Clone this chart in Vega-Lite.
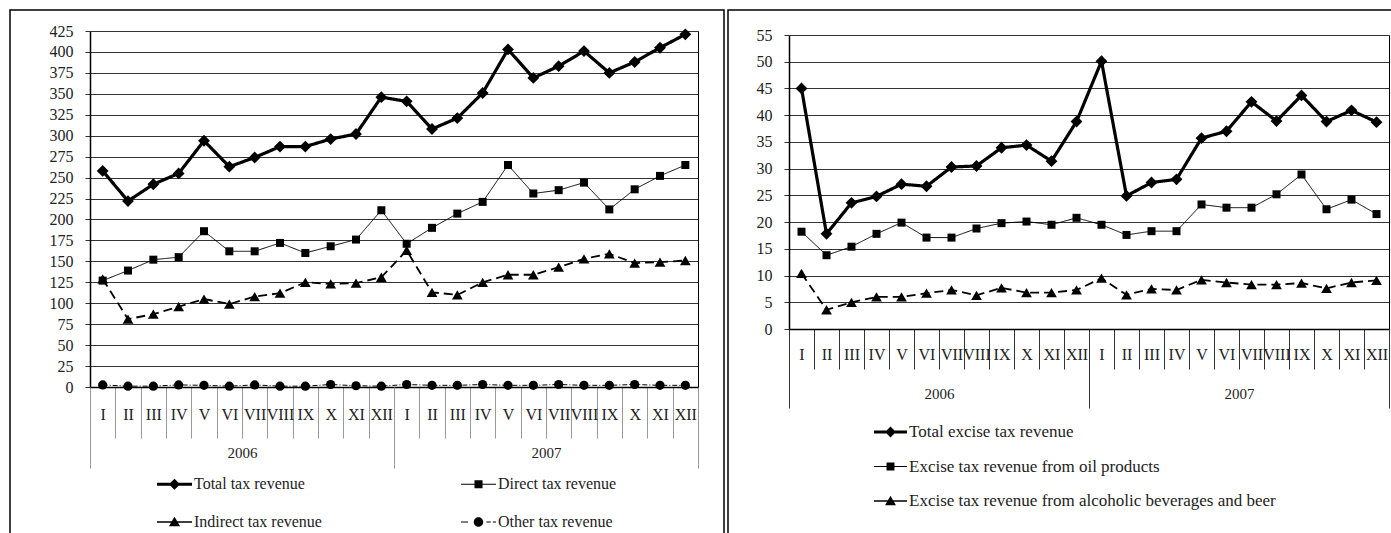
{
  "$schema": "https://vega.github.io/schema/vega-lite/v6.json",
  "padding": {"left": 9, "top": 9, "right": 0, "bottom": 0},
  "background": "white",
  "spacing": 2,
  "config": {
    "view": {"stroke": "black", "strokeWidth": 1.5},
    "font": "Liberation Serif",
    "axis": {"labelFont": "Liberation Serif", "labelColor": "#222", "labelFontSize": 16, "titleFont": "Liberation Serif"},
    "legend": {"labelFont": "Liberation Serif", "labelColor": "#222", "labelFontSize": 16}
  },
  "datasets": {
    "left": [
      {"m":"2006-I","yr":"2006","s":"Total tax revenue","v":258},
      {"m":"2006-II","yr":"2006","s":"Total tax revenue","v":222},
      {"m":"2006-III","yr":"2006","s":"Total tax revenue","v":242},
      {"m":"2006-IV","yr":"2006","s":"Total tax revenue","v":255},
      {"m":"2006-V","yr":"2006","s":"Total tax revenue","v":294},
      {"m":"2006-VI","yr":"2006","s":"Total tax revenue","v":263},
      {"m":"2006-VII","yr":"2006","s":"Total tax revenue","v":274},
      {"m":"2006-VIII","yr":"2006","s":"Total tax revenue","v":287},
      {"m":"2006-IX","yr":"2006","s":"Total tax revenue","v":287},
      {"m":"2006-X","yr":"2006","s":"Total tax revenue","v":296},
      {"m":"2006-XI","yr":"2006","s":"Total tax revenue","v":302},
      {"m":"2006-XII","yr":"2006","s":"Total tax revenue","v":346},
      {"m":"2007-I","yr":"2007","s":"Total tax revenue","v":341},
      {"m":"2007-II","yr":"2007","s":"Total tax revenue","v":308},
      {"m":"2007-III","yr":"2007","s":"Total tax revenue","v":321},
      {"m":"2007-IV","yr":"2007","s":"Total tax revenue","v":351},
      {"m":"2007-V","yr":"2007","s":"Total tax revenue","v":403},
      {"m":"2007-VI","yr":"2007","s":"Total tax revenue","v":369},
      {"m":"2007-VII","yr":"2007","s":"Total tax revenue","v":383},
      {"m":"2007-VIII","yr":"2007","s":"Total tax revenue","v":401},
      {"m":"2007-IX","yr":"2007","s":"Total tax revenue","v":375},
      {"m":"2007-X","yr":"2007","s":"Total tax revenue","v":388},
      {"m":"2007-XI","yr":"2007","s":"Total tax revenue","v":405},
      {"m":"2007-XII","yr":"2007","s":"Total tax revenue","v":421},
      {"m":"2006-I","yr":"2006","s":"Direct tax revenue","v":127},
      {"m":"2006-II","yr":"2006","s":"Direct tax revenue","v":139},
      {"m":"2006-III","yr":"2006","s":"Direct tax revenue","v":152},
      {"m":"2006-IV","yr":"2006","s":"Direct tax revenue","v":155},
      {"m":"2006-V","yr":"2006","s":"Direct tax revenue","v":186},
      {"m":"2006-VI","yr":"2006","s":"Direct tax revenue","v":162},
      {"m":"2006-VII","yr":"2006","s":"Direct tax revenue","v":162},
      {"m":"2006-VIII","yr":"2006","s":"Direct tax revenue","v":172},
      {"m":"2006-IX","yr":"2006","s":"Direct tax revenue","v":160},
      {"m":"2006-X","yr":"2006","s":"Direct tax revenue","v":168},
      {"m":"2006-XI","yr":"2006","s":"Direct tax revenue","v":176},
      {"m":"2006-XII","yr":"2006","s":"Direct tax revenue","v":211},
      {"m":"2007-I","yr":"2007","s":"Direct tax revenue","v":171},
      {"m":"2007-II","yr":"2007","s":"Direct tax revenue","v":190},
      {"m":"2007-III","yr":"2007","s":"Direct tax revenue","v":207},
      {"m":"2007-IV","yr":"2007","s":"Direct tax revenue","v":221},
      {"m":"2007-V","yr":"2007","s":"Direct tax revenue","v":265},
      {"m":"2007-VI","yr":"2007","s":"Direct tax revenue","v":231},
      {"m":"2007-VII","yr":"2007","s":"Direct tax revenue","v":235},
      {"m":"2007-VIII","yr":"2007","s":"Direct tax revenue","v":244},
      {"m":"2007-IX","yr":"2007","s":"Direct tax revenue","v":212},
      {"m":"2007-X","yr":"2007","s":"Direct tax revenue","v":236},
      {"m":"2007-XI","yr":"2007","s":"Direct tax revenue","v":252},
      {"m":"2007-XII","yr":"2007","s":"Direct tax revenue","v":265},
      {"m":"2006-I","yr":"2006","s":"Indirect tax revenue","v":129},
      {"m":"2006-II","yr":"2006","s":"Indirect tax revenue","v":81},
      {"m":"2006-III","yr":"2006","s":"Indirect tax revenue","v":87},
      {"m":"2006-IV","yr":"2006","s":"Indirect tax revenue","v":96},
      {"m":"2006-V","yr":"2006","s":"Indirect tax revenue","v":105},
      {"m":"2006-VI","yr":"2006","s":"Indirect tax revenue","v":99},
      {"m":"2006-VII","yr":"2006","s":"Indirect tax revenue","v":108},
      {"m":"2006-VIII","yr":"2006","s":"Indirect tax revenue","v":112},
      {"m":"2006-IX","yr":"2006","s":"Indirect tax revenue","v":125},
      {"m":"2006-X","yr":"2006","s":"Indirect tax revenue","v":123},
      {"m":"2006-XI","yr":"2006","s":"Indirect tax revenue","v":124},
      {"m":"2006-XII","yr":"2006","s":"Indirect tax revenue","v":131},
      {"m":"2007-I","yr":"2007","s":"Indirect tax revenue","v":163},
      {"m":"2007-II","yr":"2007","s":"Indirect tax revenue","v":113},
      {"m":"2007-III","yr":"2007","s":"Indirect tax revenue","v":110},
      {"m":"2007-IV","yr":"2007","s":"Indirect tax revenue","v":125},
      {"m":"2007-V","yr":"2007","s":"Indirect tax revenue","v":134},
      {"m":"2007-VI","yr":"2007","s":"Indirect tax revenue","v":134},
      {"m":"2007-VII","yr":"2007","s":"Indirect tax revenue","v":143},
      {"m":"2007-VIII","yr":"2007","s":"Indirect tax revenue","v":153},
      {"m":"2007-IX","yr":"2007","s":"Indirect tax revenue","v":159},
      {"m":"2007-X","yr":"2007","s":"Indirect tax revenue","v":148},
      {"m":"2007-XI","yr":"2007","s":"Indirect tax revenue","v":149},
      {"m":"2007-XII","yr":"2007","s":"Indirect tax revenue","v":151},
      {"m":"2006-I","yr":"2006","s":"Other tax revenue","v":2.5},
      {"m":"2006-II","yr":"2006","s":"Other tax revenue","v":1},
      {"m":"2006-III","yr":"2006","s":"Other tax revenue","v":1},
      {"m":"2006-IV","yr":"2006","s":"Other tax revenue","v":2.5},
      {"m":"2006-V","yr":"2006","s":"Other tax revenue","v":2},
      {"m":"2006-VI","yr":"2006","s":"Other tax revenue","v":1},
      {"m":"2006-VII","yr":"2006","s":"Other tax revenue","v":2.5},
      {"m":"2006-VIII","yr":"2006","s":"Other tax revenue","v":1},
      {"m":"2006-IX","yr":"2006","s":"Other tax revenue","v":1},
      {"m":"2006-X","yr":"2006","s":"Other tax revenue","v":3},
      {"m":"2006-XI","yr":"2006","s":"Other tax revenue","v":1.5},
      {"m":"2006-XII","yr":"2006","s":"Other tax revenue","v":1},
      {"m":"2007-I","yr":"2007","s":"Other tax revenue","v":3},
      {"m":"2007-II","yr":"2007","s":"Other tax revenue","v":2},
      {"m":"2007-III","yr":"2007","s":"Other tax revenue","v":2},
      {"m":"2007-IV","yr":"2007","s":"Other tax revenue","v":3},
      {"m":"2007-V","yr":"2007","s":"Other tax revenue","v":2},
      {"m":"2007-VI","yr":"2007","s":"Other tax revenue","v":2},
      {"m":"2007-VII","yr":"2007","s":"Other tax revenue","v":3},
      {"m":"2007-VIII","yr":"2007","s":"Other tax revenue","v":2},
      {"m":"2007-IX","yr":"2007","s":"Other tax revenue","v":2},
      {"m":"2007-X","yr":"2007","s":"Other tax revenue","v":3},
      {"m":"2007-XI","yr":"2007","s":"Other tax revenue","v":2},
      {"m":"2007-XII","yr":"2007","s":"Other tax revenue","v":2}
    ],
    "right": [
      {"m":"2006-I","yr":"2006","s":"Total excise tax revenue","v":45.0},
      {"m":"2006-II","yr":"2006","s":"Total excise tax revenue","v":17.8},
      {"m":"2006-III","yr":"2006","s":"Total excise tax revenue","v":23.6},
      {"m":"2006-IV","yr":"2006","s":"Total excise tax revenue","v":24.8},
      {"m":"2006-V","yr":"2006","s":"Total excise tax revenue","v":27.1},
      {"m":"2006-VI","yr":"2006","s":"Total excise tax revenue","v":26.7},
      {"m":"2006-VII","yr":"2006","s":"Total excise tax revenue","v":30.3},
      {"m":"2006-VIII","yr":"2006","s":"Total excise tax revenue","v":30.5},
      {"m":"2006-IX","yr":"2006","s":"Total excise tax revenue","v":33.9},
      {"m":"2006-X","yr":"2006","s":"Total excise tax revenue","v":34.4},
      {"m":"2006-XI","yr":"2006","s":"Total excise tax revenue","v":31.4},
      {"m":"2006-XII","yr":"2006","s":"Total excise tax revenue","v":38.8},
      {"m":"2007-I","yr":"2007","s":"Total excise tax revenue","v":50.1},
      {"m":"2007-II","yr":"2007","s":"Total excise tax revenue","v":24.9},
      {"m":"2007-III","yr":"2007","s":"Total excise tax revenue","v":27.4},
      {"m":"2007-IV","yr":"2007","s":"Total excise tax revenue","v":28.0},
      {"m":"2007-V","yr":"2007","s":"Total excise tax revenue","v":35.7},
      {"m":"2007-VI","yr":"2007","s":"Total excise tax revenue","v":37.0},
      {"m":"2007-VII","yr":"2007","s":"Total excise tax revenue","v":42.5},
      {"m":"2007-VIII","yr":"2007","s":"Total excise tax revenue","v":38.9},
      {"m":"2007-IX","yr":"2007","s":"Total excise tax revenue","v":43.7},
      {"m":"2007-X","yr":"2007","s":"Total excise tax revenue","v":38.8},
      {"m":"2007-XI","yr":"2007","s":"Total excise tax revenue","v":40.9},
      {"m":"2007-XII","yr":"2007","s":"Total excise tax revenue","v":38.7},
      {"m":"2006-I","yr":"2006","s":"Excise tax revenue from oil products","v":18.2},
      {"m":"2006-II","yr":"2006","s":"Excise tax revenue from oil products","v":13.8},
      {"m":"2006-III","yr":"2006","s":"Excise tax revenue from oil products","v":15.4},
      {"m":"2006-IV","yr":"2006","s":"Excise tax revenue from oil products","v":17.8},
      {"m":"2006-V","yr":"2006","s":"Excise tax revenue from oil products","v":19.9},
      {"m":"2006-VI","yr":"2006","s":"Excise tax revenue from oil products","v":17.1},
      {"m":"2006-VII","yr":"2006","s":"Excise tax revenue from oil products","v":17.1},
      {"m":"2006-VIII","yr":"2006","s":"Excise tax revenue from oil products","v":18.8},
      {"m":"2006-IX","yr":"2006","s":"Excise tax revenue from oil products","v":19.8},
      {"m":"2006-X","yr":"2006","s":"Excise tax revenue from oil products","v":20.1},
      {"m":"2006-XI","yr":"2006","s":"Excise tax revenue from oil products","v":19.5},
      {"m":"2006-XII","yr":"2006","s":"Excise tax revenue from oil products","v":20.8},
      {"m":"2007-I","yr":"2007","s":"Excise tax revenue from oil products","v":19.5},
      {"m":"2007-II","yr":"2007","s":"Excise tax revenue from oil products","v":17.6},
      {"m":"2007-III","yr":"2007","s":"Excise tax revenue from oil products","v":18.3},
      {"m":"2007-IV","yr":"2007","s":"Excise tax revenue from oil products","v":18.3},
      {"m":"2007-V","yr":"2007","s":"Excise tax revenue from oil products","v":23.3},
      {"m":"2007-VI","yr":"2007","s":"Excise tax revenue from oil products","v":22.7},
      {"m":"2007-VII","yr":"2007","s":"Excise tax revenue from oil products","v":22.7},
      {"m":"2007-VIII","yr":"2007","s":"Excise tax revenue from oil products","v":25.2},
      {"m":"2007-IX","yr":"2007","s":"Excise tax revenue from oil products","v":28.9},
      {"m":"2007-X","yr":"2007","s":"Excise tax revenue from oil products","v":22.4},
      {"m":"2007-XI","yr":"2007","s":"Excise tax revenue from oil products","v":24.2},
      {"m":"2007-XII","yr":"2007","s":"Excise tax revenue from oil products","v":21.5},
      {"m":"2006-I","yr":"2006","s":"Excise tax revenue from alcoholic beverages and beer","v":10.4},
      {"m":"2006-II","yr":"2006","s":"Excise tax revenue from alcoholic beverages and beer","v":3.6},
      {"m":"2006-III","yr":"2006","s":"Excise tax revenue from alcoholic beverages and beer","v":5.0},
      {"m":"2006-IV","yr":"2006","s":"Excise tax revenue from alcoholic beverages and beer","v":6.0},
      {"m":"2006-V","yr":"2006","s":"Excise tax revenue from alcoholic beverages and beer","v":6.0},
      {"m":"2006-VI","yr":"2006","s":"Excise tax revenue from alcoholic beverages and beer","v":6.7},
      {"m":"2006-VII","yr":"2006","s":"Excise tax revenue from alcoholic beverages and beer","v":7.3},
      {"m":"2006-VIII","yr":"2006","s":"Excise tax revenue from alcoholic beverages and beer","v":6.3},
      {"m":"2006-IX","yr":"2006","s":"Excise tax revenue from alcoholic beverages and beer","v":7.7},
      {"m":"2006-X","yr":"2006","s":"Excise tax revenue from alcoholic beverages and beer","v":6.8},
      {"m":"2006-XI","yr":"2006","s":"Excise tax revenue from alcoholic beverages and beer","v":6.8},
      {"m":"2006-XII","yr":"2006","s":"Excise tax revenue from alcoholic beverages and beer","v":7.3},
      {"m":"2007-I","yr":"2007","s":"Excise tax revenue from alcoholic beverages and beer","v":9.5},
      {"m":"2007-II","yr":"2007","s":"Excise tax revenue from alcoholic beverages and beer","v":6.4},
      {"m":"2007-III","yr":"2007","s":"Excise tax revenue from alcoholic beverages and beer","v":7.5},
      {"m":"2007-IV","yr":"2007","s":"Excise tax revenue from alcoholic beverages and beer","v":7.3},
      {"m":"2007-V","yr":"2007","s":"Excise tax revenue from alcoholic beverages and beer","v":9.2},
      {"m":"2007-VI","yr":"2007","s":"Excise tax revenue from alcoholic beverages and beer","v":8.7},
      {"m":"2007-VII","yr":"2007","s":"Excise tax revenue from alcoholic beverages and beer","v":8.3},
      {"m":"2007-VIII","yr":"2007","s":"Excise tax revenue from alcoholic beverages and beer","v":8.3},
      {"m":"2007-IX","yr":"2007","s":"Excise tax revenue from alcoholic beverages and beer","v":8.6},
      {"m":"2007-X","yr":"2007","s":"Excise tax revenue from alcoholic beverages and beer","v":7.6},
      {"m":"2007-XI","yr":"2007","s":"Excise tax revenue from alcoholic beverages and beer","v":8.7},
      {"m":"2007-XII","yr":"2007","s":"Excise tax revenue from alcoholic beverages and beer","v":9.1}
    ]
  },
  "hconcat": [
    {
      "width": 714,
      "height": 560,
      "layer": [
        {
          "data": {"name": "left"},
          "encoding": {
            "x": {"field": "m", "type": "nominal", "sort": null,
              "scale": {"type": "band", "range": [80, 688], "paddingInner": 0, "paddingOuter": 0},
              "axis": {"orient": "bottom", "offset": -183, "title": null, "grid": false, "domainColor": "black", "domainWidth": 1.5,
                "tickBand": "extent", "tickSize": 51, "tickColor": "#999", "tickWidth": 1,
                "labelExpr": "split(datum.label, '-')[1]", "labelPadding": -31.5, "labelAngle": 0,
                "labelOverlap": false, "labelBound": false, "labelFlush": false, "labelFontSize": 16}},
            "y": {"field": "v", "type": "quantitative",
              "scale": {"domain": [0, 425], "range": [377, 21], "nice": false, "zero": true},
              "axis": {"orient": "left", "offset": -80, "title": null, "values": [0,25,50,75,100,125,150,175,200,225,250,275,300,325,350,375,400,425],
                "grid": true, "gridColor": "#333", "gridWidth": 1, "domainColor": "black", "domainWidth": 1.5,
                "tickSize": 5, "tickColor": "#333", "labelPadding": 12, "labelFontSize": 16}},
            "detail": {"field": "s"}
          },
          "layer": [
            {
              "mark": {"type": "line", "color": "black"},
              "encoding": {
                "order": {"value": null},
                "strokeWidth": {"field": "s", "type": "nominal", "legend": null,
                  "scale": {"type": "ordinal", "domain": ["Total tax revenue","Direct tax revenue","Indirect tax revenue","Other tax revenue"], "range": [3.2, 1, 1.8, 1]}},
                "strokeDash": {"field": "s", "type": "nominal", "legend": null,
                  "scale": {"domain": ["Total tax revenue","Direct tax revenue","Indirect tax revenue","Other tax revenue"], "range": [[1,0],[1,0],[9,5],[5,2,1,2]]}}
              }
            },
            {
              "mark": {"type": "point", "filled": true, "color": "black", "opacity": 1},
              "encoding": {
                "shape": {"field": "s", "type": "nominal", "legend": null,
                  "scale": {"domain": ["Total tax revenue","Direct tax revenue","Indirect tax revenue","Other tax revenue"], "range": ["diamond","square","triangle-up","circle"]}},
                "size": {"field": "s", "type": "nominal", "legend": null,
                  "scale": {"type": "ordinal", "domain": ["Total tax revenue","Direct tax revenue","Indirect tax revenue","Other tax revenue"], "range": [140, 64, 115, 85]}}
              }
            }
          ]
        },
        {
          "data": {"name": "left"},
          "mark": {"type": "point", "filled": true, "color": "black", "opacity": 0},
          "encoding": {
            "x": {"field": "yr", "type": "nominal",
              "scale": {"type": "band", "domain": ["2006","2007"], "range": [80, 688], "paddingInner": 0, "paddingOuter": 0},
              "axis": {"orient": "bottom", "offset": -183, "title": null, "domain": false, "grid": false,
                "tickBand": "extent", "tickSize": 81, "tickColor": "#999", "labelPadding": -22.5, "labelAngle": 0, "labelFontSize": 15}},
            "y": {"field": "v", "type": "quantitative",
              "scale": {"domain": [0, 425], "range": [377, 21], "nice": false, "zero": true},
              "axis": {"orient": "right", "offset": -26, "title": null, "labels": false, "ticks": false, "grid": false, "domainColor": "black", "domainWidth": 1}},
            "shape": {"field": "s", "type": "nominal",
              "scale": {"domain": ["Total tax revenue","Direct tax revenue","Indirect tax revenue","Other tax revenue"],
                "range": [
                  "M-1,-0.085H1V0.085H-1Z M0,-0.32L0.32,0L0,0.32L-0.32,0Z",
                  "M-1,-0.03H1V0.03H-1Z M-0.23,-0.23H0.23V0.23H-0.23Z",
                  "M-1,-0.045H1V0.045H-1Z M0,-0.3L0.32,0.24L-0.32,0.24Z",
                  "M-1,-0.03H-0.6V0.03H-1Z M0.45,-0.03H0.7V0.03H0.45Z M0.82,-0.03H1V0.03H0.82Z M-0.27,0A0.27,0.27 0 1,1 0.27,0A0.27,0.27 0 1,1 -0.27,0Z"
                ]},
              "legend": {"orient": "none", "legendX": 147, "legendY": 456.5, "direction": "horizontal", "columns": 2, "columnPadding": 139, "rowPadding": 12,
                "title": null, "symbolSize": 1225, "symbolFillColor": "black", "symbolStrokeWidth": 0, "symbolOpacity": 1,
                "labelFontSize": 16, "labelOffset": 2, "labelLimit": 0, "padding": 0}}
          }
        }
      ],
      "resolve": {"scale": {"x": "independent", "y": "independent", "shape": "independent"}}
    },
    {
      "width": 670,
      "height": 560,
      "layer": [
        {
          "data": {"name": "right"},
          "encoding": {
            "x": {"field": "m", "type": "nominal", "sort": null,
              "scale": {"type": "band", "range": [61, 661], "paddingInner": 0, "paddingOuter": 0},
              "axis": {"orient": "bottom", "offset": -241, "title": null, "grid": false, "domainColor": "black", "domainWidth": 1.5,
                "tickBand": "extent", "tickSize": 40, "tickColor": "#333", "tickWidth": 1,
                "labelExpr": "split(datum.label, '-')[1]", "labelPadding": -22.5, "labelAngle": 0,
                "labelOverlap": false, "labelBound": false, "labelFlush": false, "labelFontSize": 16}},
            "y": {"field": "v", "type": "quantitative",
              "scale": {"domain": [0, 55], "range": [319, 25], "nice": false, "zero": true},
              "axis": {"orient": "left", "offset": -61, "title": null, "values": [0,5,10,15,20,25,30,35,40,45,50,55],
                "grid": true, "gridColor": "#333", "gridWidth": 1, "domainColor": "black", "domainWidth": 1.5,
                "tickSize": 5, "tickColor": "#333", "labelPadding": 12, "labelFontSize": 16}},
            "detail": {"field": "s"}
          },
          "layer": [
            {
              "mark": {"type": "line", "color": "black"},
              "encoding": {
                "order": {"value": null},
                "strokeWidth": {"field": "s", "type": "nominal", "legend": null,
                  "scale": {"type": "ordinal", "domain": ["Total excise tax revenue","Excise tax revenue from oil products","Excise tax revenue from alcoholic beverages and beer"], "range": [3.2, 1, 1.8]}},
                "strokeDash": {"field": "s", "type": "nominal", "legend": null,
                  "scale": {"domain": ["Total excise tax revenue","Excise tax revenue from oil products","Excise tax revenue from alcoholic beverages and beer"], "range": [[1,0],[1,0],[9,5]]}}
              }
            },
            {
              "mark": {"type": "point", "filled": true, "color": "black", "opacity": 1},
              "encoding": {
                "shape": {"field": "s", "type": "nominal", "legend": null,
                  "scale": {"domain": ["Total excise tax revenue","Excise tax revenue from oil products","Excise tax revenue from alcoholic beverages and beer"], "range": ["diamond","square","triangle-up"]}},
                "size": {"field": "s", "type": "nominal", "legend": null,
                  "scale": {"type": "ordinal", "domain": ["Total excise tax revenue","Excise tax revenue from oil products","Excise tax revenue from alcoholic beverages and beer"], "range": [130, 64, 115]}}
              }
            }
          ]
        },
        {
          "data": {"name": "right"},
          "mark": {"type": "point", "filled": true, "color": "black", "opacity": 0},
          "encoding": {
            "x": {"field": "yr", "type": "nominal",
              "scale": {"type": "band", "domain": ["2006","2007"], "range": [61, 661], "paddingInner": 0, "paddingOuter": 0},
              "axis": {"orient": "bottom", "offset": -241, "title": null, "domain": false, "grid": false,
                "tickBand": "extent", "tickSize": 79, "tickColor": "#333", "labelPadding": -21.5, "labelAngle": 0, "labelFontSize": 15}},
            "y": {"field": "v", "type": "quantitative",
              "scale": {"domain": [0, 55], "range": [319, 25], "nice": false, "zero": true},
              "axis": {"orient": "right", "offset": -9, "title": null, "labels": false, "ticks": false, "grid": false, "domainColor": "black", "domainWidth": 1}},
            "shape": {"field": "s", "type": "nominal",
              "scale": {"domain": ["Total excise tax revenue","Excise tax revenue from oil products","Excise tax revenue from alcoholic beverages and beer"],
                "range": [
                  "M-1,-0.09H1V0.09H-1Z M0,-0.33L0.33,0L0,0.33L-0.33,0Z",
                  "M-1,-0.03H1V0.03H-1Z M-0.24,-0.24H0.24V0.24H-0.24Z",
                  "M-1,-0.05H1V0.05H-1Z M0,-0.32L0.33,0.25L-0.33,0.25Z"
                ]},
              "legend": {"orient": "none", "legendX": 146, "legendY": 405.5, "columns": 1, "rowPadding": 9.5,
                "title": null, "symbolSize": 1089, "symbolFillColor": "black", "symbolStrokeWidth": 0, "symbolOpacity": 1,
                "labelFontSize": 17, "labelOffset": 2, "labelLimit": 0, "padding": 0}}
          }
        }
      ],
      "resolve": {"scale": {"x": "independent", "y": "independent", "shape": "independent"}}
    }
  ]
}
